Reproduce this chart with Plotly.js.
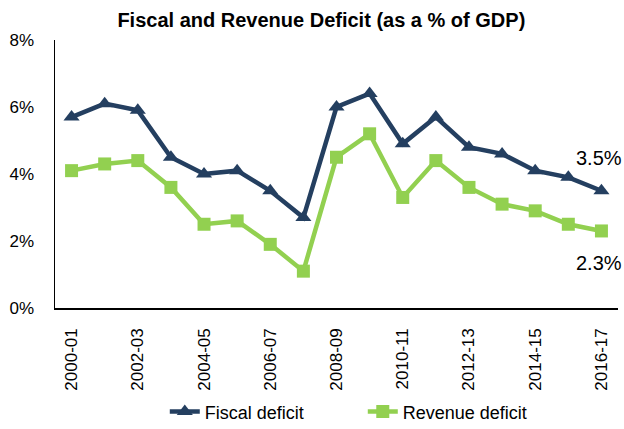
<!DOCTYPE html>
<html><head><meta charset="utf-8">
<script src="https://cdn.plot.ly/plotly-3.0.1.min.js"></script>
<style>html,body{margin:0;padding:0;background:#fff}#chart{width:624px;height:429px}</style>
</head><body><div id="chart"></div>
<script>
const years = ["2000-01","2001-02","2002-03","2003-04","2004-05","2005-06","2006-07","2007-08","2008-09","2009-10","2010-11","2011-12","2012-13","2013-14","2014-15","2015-16","2016-17"];
const fiscalDeficit = [5.7,6.1,5.9,4.5,4.0,4.1,3.5,2.7,6.0,6.4,4.9,5.7,4.8,4.6,4.1,3.9,3.5];
const revenueDeficit = [4.1,4.3,4.4,3.6,2.5,2.6,1.9,1.1,4.5,5.2,3.3,4.4,3.6,3.1,2.9,2.5,2.3];
const tickLabels = ["2000-01","2002-03","2004-05","2006-07","2008-09","2010-11","2012-13","2014-15","2016-17"];
const yTicks = [0,2,4,6,8];

const FONT = "Liberation Sans Narrow, Arial Narrow, Liberation Sans, Arial, sans-serif";
const navy = "#243F60", green = "#92D050";

const data = [
  {x: years, y: fiscalDeficit, name: "Fiscal deficit", type: "scatter", mode: "lines+markers",
   line: {color: navy, width: 4.5}, marker: {symbol: "triangle-up", size: 14, color: navy}},
  {x: years, y: revenueDeficit, name: "Revenue deficit", type: "scatter", mode: "lines+markers",
   line: {color: green, width: 4.5}, marker: {symbol: "square", size: 13, color: green}}
];

const last = years.length - 1;
const layout = {
  width: 624, height: 429,
  margin: {l: 55, r: 6, t: 40, b: 121, autoexpand: false},
  paper_bgcolor: "#fff", plot_bgcolor: "#fff",
  font: {family: FONT, color: "#000", size: 17},
  title: {text: "<b>Fiscal and Revenue Deficit (as a % of GDP)</b>", x: 0.515, xanchor: "center", y: 0.953, yanchor: "middle",
          font: {family: FONT, size: 20, color: "#000"}},
  xaxis: {type: "category", range: [-0.5, 16.5], tickmode: "array", tickvals: tickLabels, ticktext: tickLabels,
          tickangle: -90, showline: true, linecolor: "#000", linewidth: 1.5, showgrid: false,
          ticks: "outside", ticklen: 12, tickcolor: "rgba(0,0,0,0)", automargin: false,
          tickfont: {family: FONT, size: 17, color: "#000"}, zeroline: false},
  yaxis: {range: [0, 8], tickmode: "array", tickvals: yTicks, ticktext: yTicks.map(v => v + "%"),
          showline: true, linecolor: "#000", linewidth: 1.5, showgrid: false, zeroline: false,
          ticks: "outside", ticklen: 16, tickcolor: "rgba(0,0,0,0)", automargin: false,
          tickfont: {family: FONT, size: 17, color: "#000"}},
  showlegend: true,
  legend: {orientation: "h", x: 0.195, xanchor: "left", yref: "container", y: 0.04, yanchor: "middle",
           font: {family: FONT, size: 18, color: "#000"}, entrywidth: 153, entrywidthmode: "pixels", tracegroupgap: 0},
  annotations: [
    {x: years[last], y: fiscalDeficit[last], text: fiscalDeficit[last].toFixed(1) + "%", showarrow: false,
     xanchor: "center", yanchor: "middle", xshift: -2, yshift: 33, font: {family: FONT, size: 20, color: "#000"}},
    {x: years[last], y: revenueDeficit[last], text: revenueDeficit[last].toFixed(1) + "%", showarrow: false,
     xanchor: "center", yanchor: "middle", xshift: -2, yshift: -32, font: {family: FONT, size: 20, color: "#000"}}
  ]
};
Plotly.newPlot("chart", data, layout, {displayModeBar: false, staticPlot: true});
</script></body></html>
